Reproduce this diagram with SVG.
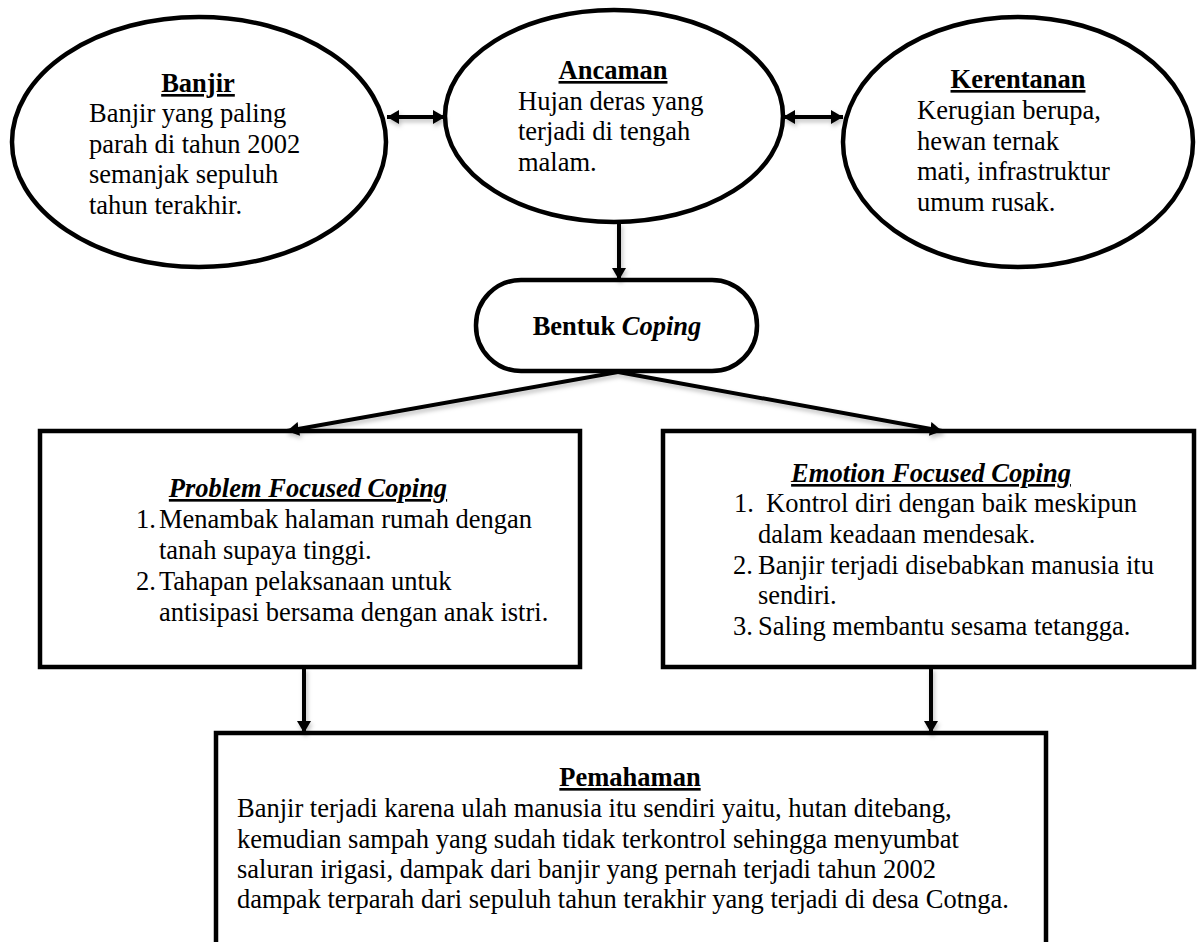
<svg xmlns="http://www.w3.org/2000/svg" width="1197" height="942" viewBox="0 0 1197 942">
<style>
text{font-family:"Liberation Serif","Times New Roman",serif;font-size:26.5px;fill:#000}
.t{font-weight:bold;text-decoration:underline;text-anchor:middle}
.ti{font-weight:bold;font-style:italic;text-decoration:underline;text-anchor:middle}
.shape{fill:#fff;stroke:#000;stroke-width:4.5}
.conn{fill:none;stroke:#000;stroke-width:4}
</style>
<defs>
<marker id="ah" viewBox="0 0 12 14" refX="12" refY="7" markerWidth="12" markerHeight="14" markerUnits="userSpaceOnUse" orient="auto-start-reverse">
<path d="M0,0 L12,7 L0,14 z" fill="#000"/>
</marker>
<filter id="sh" x="-20%" y="-50%" width="140%" height="200%">
<feDropShadow dx="1.5" dy="3" stdDeviation="2" flood-color="#000" flood-opacity="0.25"/>
</filter>
</defs>

<g id="banjir">
<ellipse class="shape" cx="199" cy="142" rx="187" ry="125"/>
<text class="t" x="198" y="92">Banjir</text>
<text x="89" y="122">Banjir yang paling</text>
<text x="89" y="153">parah di tahun 2002</text>
<text x="89" y="183">semanjak sepuluh</text>
<text x="89" y="214">tahun terakhir.</text>
</g>

<g id="ancaman">
<ellipse class="shape" cx="614" cy="116" rx="169" ry="106"/>
<text class="t" x="613" y="79">Ancaman</text>
<text x="518" y="110">Hujan deras yang</text>
<text x="518" y="140">terjadi di tengah</text>
<text x="518" y="171">malam.</text>
</g>

<g id="kerentanan">
<ellipse class="shape" cx="1018" cy="142" rx="175" ry="125"/>
<text class="t" x="1018" y="88">Kerentanan</text>
<text x="917" y="119">Kerugian berupa,</text>
<text x="917" y="150">hewan ternak</text>
<text x="917" y="180">mati, infrastruktur</text>
<text x="917" y="211">umum rusak.</text>
</g>

<g id="bentuk-coping">
<rect class="shape" x="476" y="280" width="281" height="91" rx="45" ry="45"/>
<text x="617" y="335" text-anchor="middle" font-weight="bold">Bentuk <tspan font-style="italic">Coping</tspan></text>
</g>

<g id="problem-focused">
<rect class="shape" x="40" y="431" width="540" height="236"/>
<text class="ti" x="308" y="497">Problem Focused Coping</text>
<text x="136" y="528">1.</text>
<text x="159" y="528">Menambak halaman rumah dengan</text>
<text x="159" y="559">tanah supaya tinggi.</text>
<text x="136" y="590">2.</text>
<text x="159" y="590">Tahapan pelaksanaan untuk</text>
<text x="159" y="621">antisipasi bersama dengan anak istri.</text>
</g>

<g id="emotion-focused">
<rect class="shape" x="663" y="431" width="531" height="236"/>
<text class="ti" x="931" y="482">Emotion Focused Coping</text>
<text x="734" y="512">1.</text>
<text x="766" y="512">Kontrol diri dengan baik meskipun</text>
<text x="758" y="543">dalam keadaan mendesak.</text>
<text x="733" y="574">2.</text>
<text x="758" y="574">Banjir terjadi disebabkan manusia itu</text>
<text x="758" y="604">sendiri.</text>
<text x="733" y="635">3.</text>
<text x="758" y="635">Saling membantu sesama tetangga.</text>
</g>

<g id="pemahaman">
<rect class="shape" x="216" y="733" width="830" height="215"/>
<text class="t" x="630" y="786">Pemahaman</text>
<text x="237" y="817">Banjir terjadi karena ulah manusia itu sendiri yaitu, hutan ditebang,</text>
<text x="237" y="848">kemudian sampah yang sudah tidak terkontrol sehingga menyumbat</text>
<text x="237" y="878">saluran irigasi, dampak dari banjir yang pernah terjadi tahun 2002</text>
<text x="237" y="908">dampak terparah dari sepuluh tahun terakhir yang terjadi di desa Cotnga.</text>
</g>

<g id="connectors" filter="url(#sh)">
<line class="conn" x1="387" y1="117" x2="445" y2="117" marker-start="url(#ah)" marker-end="url(#ah)"/>
<line class="conn" x1="783" y1="117" x2="843" y2="117" marker-start="url(#ah)" marker-end="url(#ah)"/>
<line class="conn" x1="619" y1="223" x2="619" y2="280" marker-end="url(#ah)"/>
<line class="conn" x1="618" y1="372" x2="287" y2="431" marker-end="url(#ah)"/>
<line class="conn" x1="618" y1="372" x2="942" y2="431" marker-end="url(#ah)"/>
<line class="conn" x1="304" y1="668" x2="304" y2="733" marker-end="url(#ah)"/>
<line class="conn" x1="931" y1="668" x2="931" y2="733" marker-end="url(#ah)"/>
</g>
</svg>
